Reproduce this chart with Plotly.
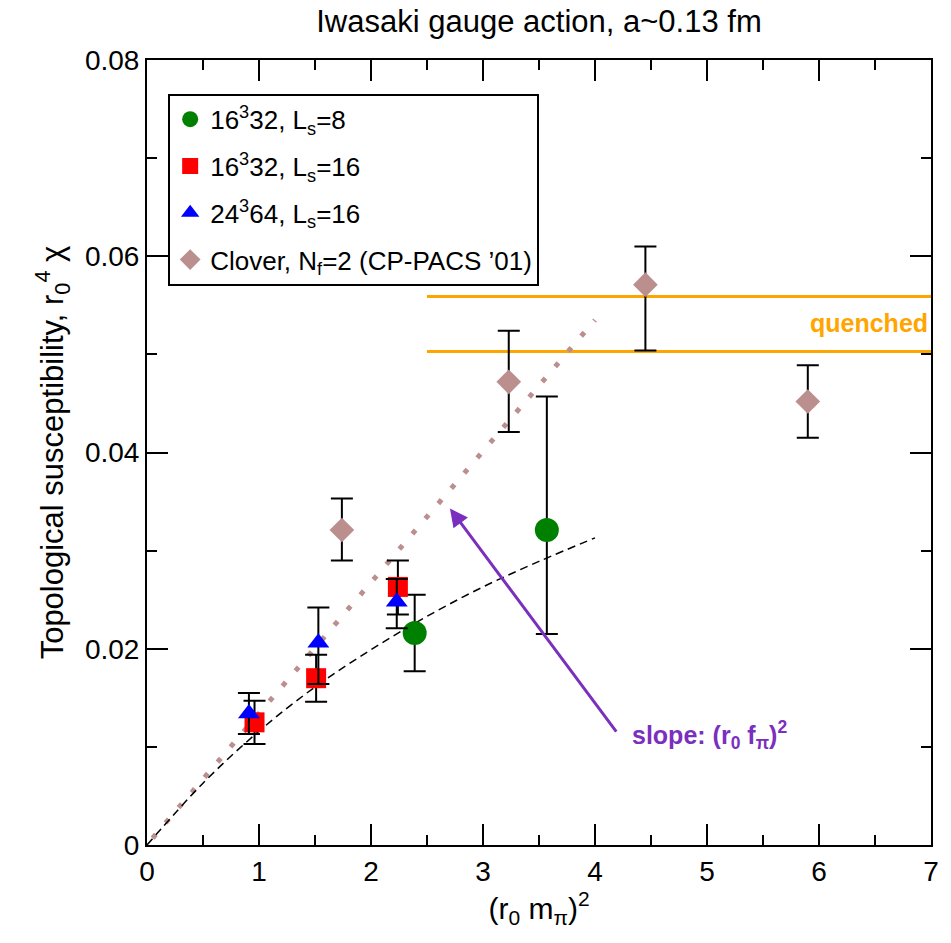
import plotly.graph_objects as go

# ---------------- data ----------------
# 16^3 32, Ls=8  (green circles)
g_x = [2.39, 3.57]
g_y = [0.0216, 0.0321]
g_ep = [0.0039, 0.0136]
g_em = [0.0039, 0.0106]

# 16^3 32, Ls=16 (red squares)
r_x = [0.96, 1.51, 2.24]
r_y = [0.0125, 0.0170, 0.0263]
r_ep = [0.0022, 0.0024, 0.0027]
r_em = [0.0022, 0.0024, 0.0028]

# 24^3 64, Ls=16 (blue triangles)
b_x = [0.91, 1.53, 2.23]
b_y = [0.0134, 0.0206, 0.0248]
b_ep = [0.0021, 0.0036, 0.0023]
b_em = [0.0021, 0.0042, 0.0027]

# Clover, Nf=2 (CP-PACS '01) (rosy diamonds)
c_x = [1.74, 3.23, 4.45, 5.90]
c_y = [0.0321, 0.0472, 0.0571, 0.0452]
c_ep = [0.0032, 0.0052, 0.0039, 0.0037]
c_em = [0.0031, 0.0051, 0.0067, 0.0037]

# dashed curve
curve_x = [0.0, 0.5, 1.0, 1.5, 2.0, 2.5, 3.0, 3.5, 4.0]
curve_y = [0.0, 0.0063, 0.0116, 0.0161, 0.0199, 0.0233, 0.0263, 0.0289, 0.0313]

# dotted slope line (r0 f_pi)^2
slope_x = [0.05, 4.0]
slope_y = [0.0007, 0.0535]

# quenched band
q_x = [2.5, 7.0]
q_hi = [0.0559, 0.0559]
q_lo = [0.0503, 0.0503]

# arrow (tail -> head)
arrow_tail = (4.2, 0.0114)
arrow_head = (2.705, 0.0343)

x_ticks = [0, 1, 2, 3, 4, 5, 6, 7]
y_ticks = [0, 0.02, 0.04, 0.06, 0.08]

FONT = "Liberation Sans, Arial, Helvetica, sans-serif"
ROSY = "#BC8F8F"
ORANGE = "#FFA500"
PURPLE = "#7B2FBE"

fig = go.Figure()

# background lines
fig.add_trace(go.Scatter(x=q_x, y=q_hi, mode="lines", line=dict(color=ORANGE, width=3),
                         showlegend=False, hoverinfo="skip"))
fig.add_trace(go.Scatter(x=q_x, y=q_lo, mode="lines", line=dict(color=ORANGE, width=3),
                         showlegend=False, hoverinfo="skip"))
fig.add_trace(go.Scatter(x=slope_x, y=slope_y, mode="lines",
                         line=dict(color=ROSY, width=5, dash="5px,15px"),
                         showlegend=False, hoverinfo="skip"))
fig.add_trace(go.Scatter(x=curve_x, y=curve_y, mode="lines", line_shape="spline",
                         line=dict(color="black", width=1.5, dash="8px,5px"),
                         showlegend=False, hoverinfo="skip"))

def err(p, m):
    return dict(type="data", symmetric=False, array=p, arrayminus=m,
                color="black", thickness=2, width=11)

fig.add_trace(go.Scatter(x=g_x, y=g_y, mode="markers", name="16<sup>3</sup>32, L<sub>s</sub>=8",
                         legendgroup="g",
                         marker=dict(symbol="circle", size=24, color="#008000"),
                         error_y=err(g_ep, g_em)))
fig.add_trace(go.Scatter(x=r_x, y=r_y, mode="markers", name="16<sup>3</sup>32, L<sub>s</sub>=16",
                         legendgroup="r",
                         marker=dict(symbol="square", size=20, color="#FF0000"),
                         error_y=err(r_ep, r_em)))
fig.add_trace(go.Scatter(x=b_x, y=b_y, mode="markers", name="24<sup>3</sup>64, L<sub>s</sub>=16",
                         legendgroup="b",
                         marker=dict(symbol="triangle-up", size=19, color="#0000FF"),
                         error_y=err(b_ep, b_em)))
fig.add_trace(go.Scatter(x=c_x, y=c_y, mode="markers", name="Clover, N<sub>f</sub>=2 (CP-PACS \u201901)",
                         legendgroup="c",
                         marker=dict(symbol="diamond", size=19, color=ROSY),
                         error_y=err(c_ep, c_em)))

fig.add_annotation(x=arrow_head[0], y=arrow_head[1], ax=arrow_tail[0], ay=arrow_tail[1],
                   xref="x", yref="y", axref="x", ayref="y", text="",
                   showarrow=True, arrowhead=2, arrowsize=1.2, arrowwidth=3,
                   arrowcolor=PURPLE, standoff=0)
fig.add_annotation(x=4.31, y=0.0112, xref="x", yref="y", xanchor="left", yanchor="middle",
                   text="<b>slope: (r<sub>0</sub> f<sub>\u03c0</sub>)<sup>2</sup></b>",
                   showarrow=False, font=dict(family=FONT, size=25, color=PURPLE))
fig.add_annotation(x=6.99, y=0.0532, xref="x", yref="y", xanchor="right", yanchor="middle",
                   text="<b>quenched</b>", showarrow=False,
                   font=dict(family=FONT, size=25, color=ORANGE))

axis_common = dict(showgrid=False, zeroline=False, showline=True, linecolor="black",
                   linewidth=2, mirror="ticks", ticks="inside", ticklen=21, tickwidth=1.5,
                   tickcolor="black", tickfont=dict(family=FONT, size=28, color="black"))

fig.update_xaxes(range=[0, 7], tickvals=x_ticks, ticktext=[str(v) for v in x_ticks],
                 minor=dict(ticks="inside", ticklen=10, tickwidth=1.5, dtick=0.5,
                            tickcolor="black", showgrid=False),
                 title=dict(text="(r<sub>0</sub> m<sub>\u03c0</sub>)<sup>2</sup>",
                            font=dict(family=FONT, size=30, color="black"), standoff=12),
                 **axis_common)
fig.update_yaxes(range=[0, 0.08], tickvals=y_ticks,
                 ticktext=["0", "0.02", "0.04", "0.06", "0.08"],
                 minor=dict(ticks="inside", ticklen=10, tickwidth=1.5, dtick=0.01,
                            tickcolor="black", showgrid=False),
                 title=dict(text="Topological susceptibility, r<sub>0</sub><sup>4</sup> \u03c7",
                            font=dict(family=FONT, size=31, color="black"), standoff=12),
                 **axis_common)

fig.update_layout(
    width=951, height=943,
    margin=dict(l=147, r=17, t=60, b=98),
    paper_bgcolor="white", plot_bgcolor="white",
    title=dict(text="Iwasaki gauge action, a~0.13 fm", x=0.5, xref="paper",
               y=0.978, yref="container", yanchor="middle",
               font=dict(family=FONT, size=31, color="black")),
    legend=dict(x=0.027, y=0.957, xanchor="left", yanchor="top",
                bgcolor="white", bordercolor="black", borderwidth=2,
                font=dict(family=FONT, size=26, color="black"),
                tracegroupgap=10, itemsizing="trace"),
    showlegend=True,
)

fig.write_html("out.html")
